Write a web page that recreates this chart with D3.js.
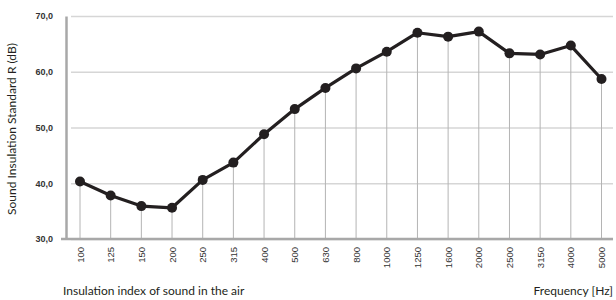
<!DOCTYPE html>
<html>
<head>
<meta charset="utf-8">
<script src="https://cdn.jsdelivr.net/npm/d3@7.9.0/dist/d3.min.js"></script>
<style>
  body { margin: 0; background: #fff; }
  svg { display: block; font-family: Lato, "Open Sans", sans-serif; }
</style>
</head>
<body>
<div id="chart"></div>
<script>
const frequencies = ['100', '125', '150', '200', '250', '315', '400', '500', '630', '800',
  '1000', '1250', '1600', '2000', '2500', '3150', '4000', '5000'];
const insulation = [40.3, 37.8, 35.9, 35.6, 40.6, 43.7, 48.8, 53.3, 57.1, 60.6,
  63.6, 67.0, 66.3, 67.2, 63.3, 63.1, 64.7, 58.7];
const yTicks = [30, 40, 50, 60, 70];

const width = 616;
const height = 300;
const margin = { top: 16, right: 3, bottom: 61, left: 66 };

const svg = d3.select('#chart')
  .append('svg')
  .attr('width', width)
  .attr('height', height);

const xScale = d3.scalePoint()
  .domain(frequencies)
  .range([margin.left + 14, width - margin.right - 11.5]);

const yScale = d3.scaleLinear()
  .domain([30, 70])
  .range([height - margin.bottom, margin.top]);

// horizontal gridlines
svg.append('g')
  .attr('class', 'gridlines')
  .attr('transform', `translate(${margin.left}, 0)`)
  .call(d3.axisLeft(yScale)
    .tickValues(yTicks)
    .tickSize(-(width - margin.left - margin.right))
    .tickFormat(''))
  .call(g => g.select('.domain').remove())
  .call(g => g.selectAll('line')
    .attr('stroke', '#d6d6d6')
    .attr('stroke-width', 1.6)
    .attr('x1', 5));

// vertical drop lines
svg.append('g')
  .selectAll('line')
  .data(frequencies)
  .join('line')
  .attr('x1', d => xScale(d))
  .attr('x2', d => xScale(d))
  .attr('y1', (d, i) => yScale(insulation[i]))
  .attr('y2', yScale(30))
  .attr('stroke', '#b4b4b4')
  .attr('stroke-width', 1);

// y axis
const yAxis = svg.append('g')
  .attr('transform', `translate(${margin.left}, 0)`)
  .call(d3.axisLeft(yScale)
    .tickValues(yTicks)
    .tickSize(0)
    .tickPadding(13)
    .tickFormat(d => d3.format('.1f')(d).replace('.', ',')));
yAxis.select('.domain')
  .attr('stroke', '#a8a8a8')
  .attr('stroke-width', 2.5);
yAxis.selectAll('text')
  .attr('font-size', 9)
  .attr('font-weight', 'bold')
  .attr('fill', '#333');

// x axis
const xAxis = svg.append('g')
  .attr('transform', `translate(0, ${yScale(30)})`)
  .call(d3.axisBottom(xScale).tickSize(0).tickPadding(0));
xAxis.select('.domain')
  .attr('d', `M${margin.left - 5},0H${width - margin.right}`)
  .attr('stroke', '#a8a8a8')
  .attr('stroke-width', 2.5);
xAxis.selectAll('text')
  .attr('font-size', 9.5)
  .attr('fill', '#333')
  .attr('transform', 'rotate(-90)')
  .attr('text-anchor', 'end')
  .attr('dy', '0.32em')
  .attr('x', -8)
  .attr('y', 0);

// data line
svg.append('path')
  .datum(insulation)
  .attr('fill', 'none')
  .attr('stroke', '#231f20')
  .attr('stroke-width', 3.2)
  .attr('stroke-linejoin', 'round')
  .attr('d', d3.line()
    .x((d, i) => xScale(frequencies[i]))
    .y(d => yScale(d)));

svg.append('g')
  .selectAll('circle')
  .data(insulation)
  .join('circle')
  .attr('cx', (d, i) => xScale(frequencies[i]))
  .attr('cy', d => yScale(d))
  .attr('r', 5)
  .attr('fill', '#231f20');

// titles
svg.append('text')
  .attr('transform', `translate(16, 129) rotate(-90)`)
  .attr('text-anchor', 'middle')
  .attr('font-size', 12)
  .attr('fill', '#231f20')
  .text('Sound Insulation Standard R (dB)');

svg.append('text')
  .attr('x', 63)
  .attr('y', 295)
  .attr('font-size', 12)
  .attr('fill', '#231f20')
  .text('Insulation index of sound in the air');

svg.append('text')
  .attr('x', 613)
  .attr('y', 295)
  .attr('text-anchor', 'end')
  .attr('font-size', 12)
  .attr('fill', '#231f20')
  .text('Frequency [Hz]');
</script>
</body>
</html>
